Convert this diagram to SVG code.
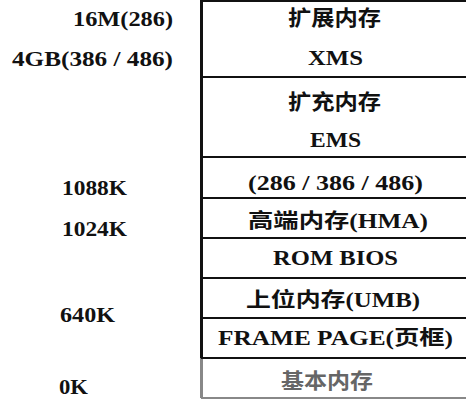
<svg xmlns="http://www.w3.org/2000/svg" width="466" height="400" viewBox="0 0 466 400">
<style>
  .lbl { font-family: "Liberation Serif", "Noto Sans CJK SC", serif; font-weight: bold; font-size: 20px; fill: #111; }
  .cell { font-family: "Liberation Serif", "Noto Sans CJK SC", serif; font-weight: bold; font-size: 20px; fill: #111; }
  .cjk { font-family: "Noto Sans CJK SC", sans-serif; font-weight: bold; font-size: 21px; fill: #111; }
  .ln { stroke: #111; stroke-width: 2; fill: none; }
  .faint { stroke: #888; stroke-width: 2; fill: none; }
</style>
<rect x="0" y="0" width="466" height="400" fill="#ffffff"/>
<g id="addresses">
  <text class="lbl" x="73" y="26" textLength="100" lengthAdjust="spacingAndGlyphs">16M(286)</text>
  <text class="lbl" x="12" y="66" textLength="161" lengthAdjust="spacingAndGlyphs">4GB(386 / 486)</text>
  <text class="lbl" x="62" y="195" textLength="65" lengthAdjust="spacingAndGlyphs">1088K</text>
  <text class="lbl" x="62" y="236" textLength="65" lengthAdjust="spacingAndGlyphs">1024K</text>
  <text class="lbl" x="60" y="322" textLength="55" lengthAdjust="spacingAndGlyphs">640K</text>
  <text class="lbl" x="59" y="394" textLength="29" lengthAdjust="spacingAndGlyphs">0K</text>
</g>
<g id="frame">
  <line class="ln" x1="201" y1="1" x2="466" y2="1"/>
  <line x1="201.5" y1="0" x2="201.5" y2="358" stroke="#111" stroke-width="3"/>
  <line x1="201.5" y1="358" x2="201.5" y2="398" stroke="#888" stroke-width="3"/>
</g>
<g id="connectors">
  <line class="ln" x1="201" y1="77" x2="466" y2="77"/>
  <line class="ln" x1="201" y1="157" x2="466" y2="157"/>
  <line class="ln" x1="201" y1="198" x2="466" y2="198"/>
  <line class="ln" x1="201" y1="238" x2="466" y2="238"/>
  <line class="ln" x1="201" y1="278" x2="466" y2="278"/>
  <line class="ln" x1="201" y1="318" x2="466" y2="318"/>
  <line class="ln" x1="201" y1="358" x2="466" y2="358"/>
  <line class="faint" x1="201" y1="398" x2="466" y2="398"/>
</g>
<g id="xms">
  <text class="cjk" x="288" y="25" textLength="93" lengthAdjust="spacingAndGlyphs">扩展内存</text>
  <text class="cell" x="308" y="65" textLength="55" lengthAdjust="spacingAndGlyphs">XMS</text>
</g>
<g id="ems">
  <text class="cjk" x="288" y="109" textLength="93" lengthAdjust="spacingAndGlyphs">扩充内存</text>
  <text class="cell" x="310" y="147" textLength="51" lengthAdjust="spacingAndGlyphs">EMS</text>
</g>
<g id="cpu">
  <text class="cell" x="248" y="190" textLength="175" lengthAdjust="spacingAndGlyphs">(286 / 386 / 486)</text>
</g>
<g id="hma">
  <text class="cell" x="248" y="228" textLength="180" lengthAdjust="spacingAndGlyphs">高端内存(HMA)</text>
</g>
<g id="rombios">
  <text class="cell" x="273" y="265" textLength="125" lengthAdjust="spacingAndGlyphs">ROM BIOS</text>
</g>
<g id="umb">
  <text class="cell" x="246" y="307" textLength="174" lengthAdjust="spacingAndGlyphs">上位内存(UMB)</text>
</g>
<g id="framepage">
  <text class="cell" x="218" y="345" textLength="235" lengthAdjust="spacingAndGlyphs" fill="#222">FRAME PAGE(页框)</text>
</g>
<g id="base">
  <text class="cjk" x="281" y="388" textLength="92" lengthAdjust="spacingAndGlyphs" style="fill:#666">基本内存</text>
</g>
</svg>
